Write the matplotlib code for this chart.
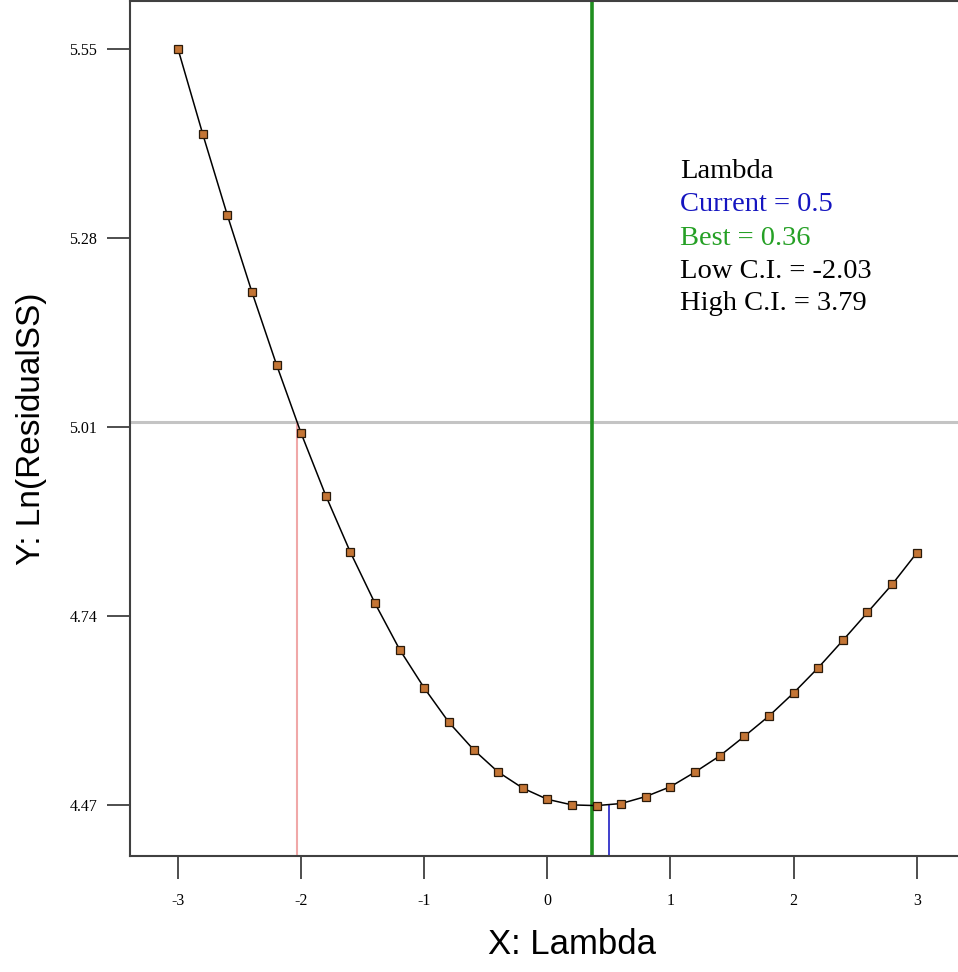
import numpy as np
import matplotlib
matplotlib.use("Agg")
import matplotlib.pyplot as plt

# Box-Cox lambda scan: ln(residual SS) for each trial lambda
lam = [-3.0, -2.8, -2.6, -2.4, -2.2, -2.0, -1.8, -1.6, -1.4, -1.2, -1.0,
       -0.8, -0.6, -0.4, -0.2, 0.0, 0.2, 0.4, 0.6, 0.8, 1.0,
       1.2, 1.4, 1.6, 1.8, 2.0, 2.2, 2.4, 2.6, 2.8, 3.0]
ln_rss = [5.550, 5.429, 5.313, 5.203, 5.099, 5.001, 4.912, 4.831, 4.758, 4.692, 4.637,
          4.588, 4.549, 4.517, 4.494, 4.478, 4.470, 4.469, 4.472, 4.482, 4.496,
          4.517, 4.540, 4.568, 4.597, 4.630, 4.666, 4.705, 4.745, 4.785, 4.830]

current = 0.5
best = 0.36
low_ci = -2.03
high_ci = 3.79
ci_level = 5.017

yticks = [4.47, 4.74, 5.01, 5.28, 5.55]
xticks = [-3, -2, -1, 0, 1, 2, 3]

W, H = 958, 972
fig = plt.figure(figsize=(W / 100, H / 100), dpi=100)
ax = fig.add_axes([130 / W, 116 / H, (1014 - 130) / W, 855 / H])

ymin, ymax = 4.397, 5.6186
ax.set_xlim(-3.39, high_ci)
ax.set_ylim(ymin, ymax)

# reference lines
ax.axhline(ci_level, color="#c4c4c4", lw=2.2, zorder=1)
ax.axvline(best, color="#1f8f1f", lw=2.6, zorder=1)
ax.vlines(low_ci, ymin, ci_level, color="#f0a8a8", lw=1.5, zorder=1)
ax.vlines(current, ymin, np.interp(current, lam, ln_rss), color="#3030c8", lw=1.3, zorder=1)

ax.plot(lam, ln_rss, color="black", lw=1.1, marker="s", ms=5.3,
        mfc="#c47535", mec="#2a1a0a", mew=0.9, zorder=3)

ax.set_xticks(xticks)
ax.set_xticklabels([str(t) for t in xticks])
ax.set_yticks(yticks)
ax.set_yticklabels(["%.2f" % t for t in yticks])
ax.tick_params(axis="both", direction="out", length=16.5, width=1.2,
               color="#303030", labelsize=11.5)
ax.tick_params(axis="x", pad=10)
ax.tick_params(axis="y", pad=7)
for lbl in ax.get_xticklabels() + ax.get_yticklabels():
    lbl.set_family("Liberation Serif")

for side in ["left", "bottom", "top", "right"]:
    ax.spines[side].set_color("#404040")
    ax.spines[side].set_linewidth(1.5)

ax.set_xlabel("X: Lambda", family="Liberation Sans", fontsize=25, labelpad=14)
ax.set_ylabel("Y: Ln(ResidualSS)", family="Liberation Sans", fontsize=24)
ax.yaxis.set_label_coords(-0.094, 0.5)

# lambda summary block
rows = [("Lambda", "black"),
        ("Current = %g" % current, "#1515c0"),
        ("Best = %g" % best, "#25a025"),
        ("Low C.I. = %g" % low_ci, "black"),
        ("High C.I. = %g" % high_ci, "black")]
ys = [172, 204, 238, 271, 304]
for (txt, col), y in zip(rows, ys):
    fig.text(680 / W, 1 - y / H, txt, color=col, family="Liberation Serif",
             fontsize=20.5, va="center", ha="left")

fig.savefig("out.png", dpi=100)
